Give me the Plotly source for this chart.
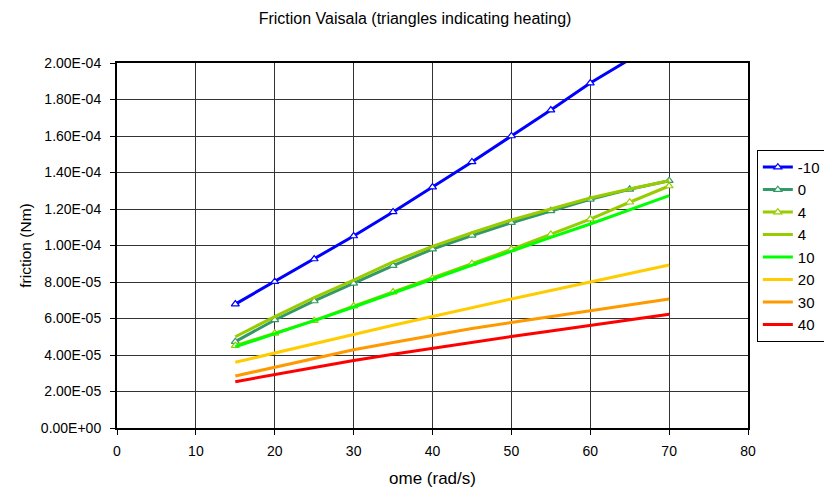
import plotly.graph_objects as go

ome = [15, 20, 25, 30, 35, 40, 45, 50, 55, 60, 65, 70]

f_m10 = [6.79e-5, 8.02e-5, 9.26e-5, 1.052e-4, 1.184e-4, 1.32e-4, 1.458e-4, 1.60e-4, 1.742e-4, 1.89e-4, 2.02e-4, 2.17e-4]
f_0 = [4.73e-5, 5.92e-5, 6.96e-5, 7.93e-5, 8.90e-5, 9.80e-5, 1.055e-4, 1.125e-4, 1.19e-4, 1.253e-4, 1.308e-4, 1.355e-4]
f_4h = [4.51e-5, 5.19e-5, 5.88e-5, 6.68e-5, 7.45e-5, 8.20e-5, 9.00e-5, 9.79e-5, 1.061e-4, 1.145e-4, 1.237e-4, 1.326e-4]
f_4 = [5.00e-5, 6.10e-5, 7.15e-5, 8.10e-5, 9.10e-5, 9.95e-5, 1.07e-4, 1.14e-4, 1.20e-4, 1.26e-4, 1.31e-4, 1.355e-4]
f_10 = [4.45e-5, 5.15e-5, 5.88e-5, 6.63e-5, 7.40e-5, 8.15e-5, 8.95e-5, 9.70e-5, 1.045e-4, 1.118e-4, 1.195e-4, 1.273e-4]
f_20 = [3.60e-5, 4.11e-5, 4.62e-5, 5.14e-5, 5.63e-5, 6.11e-5, 6.60e-5, 7.07e-5, 7.53e-5, 8.00e-5, 8.46e-5, 8.93e-5]
f_30 = [2.85e-5, 3.33e-5, 3.81e-5, 4.29e-5, 4.69e-5, 5.07e-5, 5.45e-5, 5.78e-5, 6.10e-5, 6.43e-5, 6.75e-5, 7.07e-5]
f_40 = [2.54e-5, 2.93e-5, 3.31e-5, 3.70e-5, 4.04e-5, 4.37e-5, 4.70e-5, 5.01e-5, 5.31e-5, 5.62e-5, 5.92e-5, 6.23e-5]

y_tickvals = [0, 2e-5, 4e-5, 6e-5, 8e-5, 1e-4, 1.2e-4, 1.4e-4, 1.6e-4, 1.8e-4, 2e-4]
y_ticktext = ["0.00E+00", "2.00E-05", "4.00E-05", "6.00E-05", "8.00E-05", "1.00E-04",
              "1.20E-04", "1.40E-04", "1.60E-04", "1.80E-04", "2.00E-04"]
x_tickvals = [0, 10, 20, 30, 40, 50, 60, 70, 80]

series = [
    ("-10", f_m10, "#0000FF", True),
    ("0", f_0, "#339966", True),
    ("4", f_4h, "#99CC00", True),
    ("4", f_4, "#99CC00", False),
    ("10", f_10, "#00FF00", False),
    ("20", f_20, "#FFCC00", False),
    ("30", f_30, "#FF9900", False),
    ("40", f_40, "#FF0000", False),
]

fig = go.Figure()
for i, (name, ys, col, mk) in enumerate(series):
    fig.add_trace(go.Scatter(
        x=ome, y=ys, name=name, legendgroup=f"g{i}",
        mode="lines+markers" if mk else "lines",
        line=dict(color=col, width=3),
        marker=dict(symbol="triangle-up", size=7, color="white",
                    line=dict(color=col, width=1.2)) if mk else None,
        cliponaxis=True,
    ))

fnt = "Liberation Sans, Arial, sans-serif"
# page body has an 8px default margin; the figure is sized to fill the rest of the window
fig.update_layout(
    width=824, height=484,
    margin=dict(l=109, r=84, t=55, b=64, autoexpand=False),
    paper_bgcolor="white", plot_bgcolor="white",
    font=dict(family=fnt, size=15, color="black"),
    title=dict(text="Friction Vaisala (triangles indicating heating)", x=0.494, xref="container",
               xanchor="center",
               yref="container", y=1 - 10 / 484, yanchor="middle",
               font=dict(size=16, family=fnt, color="black")),
    showlegend=True,
    legend=dict(x=1.014, y=0.762, xanchor="left", yanchor="top",
                bgcolor="white", bordercolor="black", borderwidth=1,
                font=dict(size=15, family=fnt, color="black"), tracegroupgap=0,
                traceorder="grouped", itemwidth=30),
    xaxis=dict(range=[0, 80], tickvals=x_tickvals, showgrid=True, gridcolor="#333333",
               gridwidth=1, showline=True, linecolor="black", linewidth=2, mirror=True,
               ticks="outside", ticklen=5, tickcolor="black", zeroline=False, automargin=False,
               ticklabelstandoff=4,
               title=dict(text="ome (rad/s)", standoff=14,
                          font=dict(size=17, family=fnt, color="black")),
               tickfont=dict(size=14, family=fnt, color="black")),
    yaxis=dict(range=[0, 2e-4], tickvals=y_tickvals, ticktext=y_ticktext, showgrid=True,
               gridcolor="#333333", gridwidth=1, showline=True, linecolor="black", linewidth=2,
               mirror=True, ticks="outside", ticklen=5, tickcolor="black", zeroline=False,
               automargin=False, ticklabelstandoff=6,
               title=dict(text="friction (Nm)", standoff=5,
                          font=dict(size=15.5, family=fnt, color="black")),
               tickfont=dict(size=14, family=fnt, color="black")),
)

fig.write_html("out.html")
